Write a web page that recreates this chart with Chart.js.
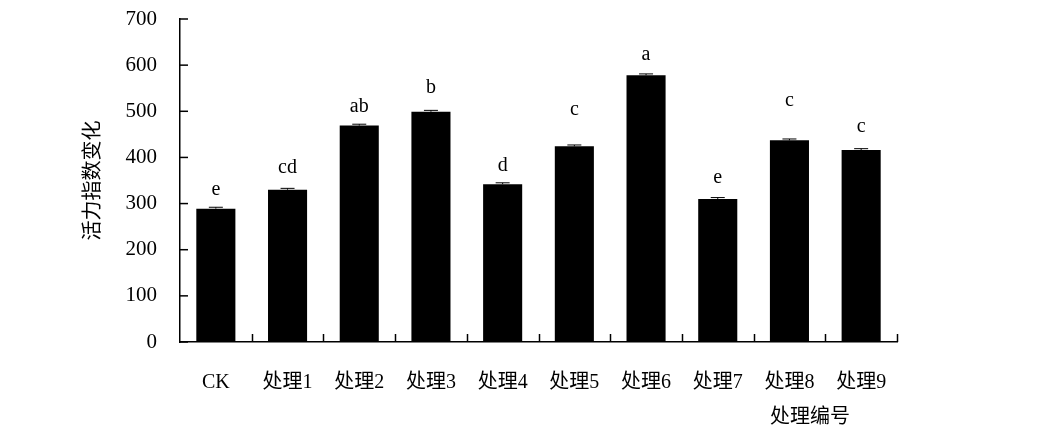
<!DOCTYPE html>
<html><head><meta charset="utf-8">
<script src="https://cdn.jsdelivr.net/npm/chart.js@4.4.0/dist/chart.umd.min.js"></script>
<style>html,body{margin:0;padding:0;background:#fff;overflow:hidden}</style>
</head><body>
<canvas id="c" width="1051" height="444"></canvas>
<script>
const categories = ['CK','处理1','处理2','处理3','处理4','处理5','处理6','处理7','处理8','处理9'];
const values = [289, 330, 469, 499, 342, 424, 578, 310, 437, 416];
const errors = [3, 3, 3, 3, 3, 3, 3, 3, 3, 3];
const letters = ['e','cd','ab','b','d','c','a','e','c','c'];
const letterAt = [329, 377, 510, 552, 383, 504, 623, 355, 523, 467];
const yMin = 0, yMax = 700, yStep = 100;
const yTitle = '活力指数变化';
const xTitle = '处理编号';

const FONT = '"Liberation Serif", "Times New Roman", "Noto Sans CJK SC", serif';

function line(ctx, x1, y1, x2, y2){ ctx.beginPath(); ctx.moveTo(x1,y1); ctx.lineTo(x2,y2); ctx.stroke(); }

const overlay = {
  id: 'overlay',
  afterDatasetsDraw(chart){
    const ctx = chart.ctx, xs = chart.scales.x, ys = chart.scales.y, area = chart.chartArea;
    const meta = chart.getDatasetMeta(0);
    ctx.save();
    ctx.strokeStyle = '#000';
    ctx.lineWidth = 1;
    meta.data.forEach((bar, i) => {
      const x = bar.x;
      const yT = ys.getPixelForValue(values[i] + errors[i]);
      const yV = ys.getPixelForValue(values[i]);
      line(ctx, x, yV, x, yT);
      line(ctx, x - 7, yT, x + 7, yT);
    });
    ctx.fillStyle = '#000';
    ctx.font = '20px ' + FONT;
    ctx.textAlign = 'center';
    ctx.textBaseline = 'middle';
    meta.data.forEach((bar, i) => ctx.fillText(letters[i], bar.x, ys.getPixelForValue(letterAt[i])));
    ctx.lineWidth = 1.5;
    ys.ticks.forEach((t, i) => { const y = ys.getPixelForTick(i); line(ctx, area.left, y, area.left + 8, y); });
    for (let i = 1; i <= categories.length; i++) {
      const x = Math.round(xs.getPixelForValue(i - 0.5)) + 0.5;
      line(ctx, x, area.bottom, x, area.bottom - 8);
    }
    ctx.fillText(xTitle, area.right - 87, area.bottom + 76);
    ctx.restore();
  }
};

new Chart(document.getElementById('c'), {
  type: 'bar',
  data: {
    labels: categories,
    datasets: [{ data: values, backgroundColor: '#000', borderWidth: 0, categoryPercentage: 1, barPercentage: 0.545 }]
  },
  options: {
    responsive: false,
    devicePixelRatio: 1,
    animation: false,
    color: '#000',
    layout: { padding: { left: 0, right: 154, top: 19, bottom: 0 } },
    plugins: { legend: { display: false }, tooltip: { enabled: false } },
    scales: {
      x: {
        grid: { display: false },
        border: { display: true, color: '#000', width: 1.5 },
        ticks: { color: '#000', font: { family: FONT, size: 20 }, padding: 21, maxRotation: 0, autoSkip: false },
        afterFit(s){ s.height = 102; }
      },
      y: {
        min: yMin, max: yMax,
        grid: { display: false },
        border: { display: true, color: '#000', width: 1.5 },
        ticks: { stepSize: yStep, color: '#000', font: { family: FONT, size: 21 }, padding: 15 },
        title: { display: true, text: yTitle, color: '#000', font: { family: FONT, size: 20 }, padding: { top: 82, bottom: 0 } },
        afterFit(s){ s.width = 180; s.paddingTop = 0; s.paddingBottom = 0; }
      }
    }
  },
  plugins: [overlay]
});
</script>
</body></html>
